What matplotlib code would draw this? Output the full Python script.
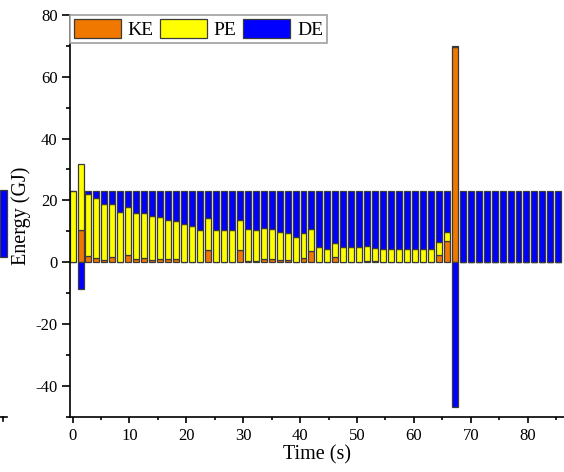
import matplotlib
matplotlib.use("Agg")
import matplotlib.pyplot as plt
import numpy as np
from matplotlib.patches import Rectangle
from matplotlib.lines import Line2D

plt.rcParams['font.family'] = ['Liberation Serif', 'DejaVu Serif']
plt.rcParams['axes.unicode_minus'] = False

# Time of each bar (s)
time = [0.0, 1.4, 2.8, 4.2, 5.6, 7.0, 8.4, 9.8, 11.2, 12.6, 14.0, 15.4, 16.8, 18.2,
        19.6, 21.0, 22.4, 23.8, 25.2, 26.6, 28.0, 29.4, 30.8, 32.2, 33.6, 35.0,
        36.4, 37.8, 39.2, 40.6, 42.0, 43.4, 44.8, 46.2, 47.6, 49.0, 50.4, 51.8,
        53.2, 54.6, 56.0, 57.4, 58.8, 60.2, 61.6, 63.0, 64.4, 65.8, 67.2, 68.6,
        70.0, 71.4, 72.8, 74.2, 75.6, 77.0, 78.4, 79.8, 81.2, 82.6, 84.0, 85.4]

# Kinetic energy (GJ)
KE = [0.0, 10.5, 2.0, 1.5, 0.8, 1.8, 0.2, 2.4, 1.0, 1.2, 0.8, 1.1, 0.9, 0.9,
      0.2, 0.2, 0.1, 3.9, 0.0, 0.0, 0.0, 3.8, 0.5, 0.3, 1.1, 1.1, 0.8, 0.8,
      0.0, 1.3, 3.6, 0.2, 0.0, 1.8, 0.0, 0.0, 0.0, 0.3, 0.3, 0.0, 0.0, 0.0,
      0.0, 0.0, 0.0, 0.2, 2.4, 6.8, 69.6, 0.2, 0.0, 0.0, 0.0, 0.0, 0.0, 0.0,
      0.0, 0.0, 0.0, 0.0, 0.0, 0.0]

# Potential energy (GJ)
PE = [23.0, 21.2, 20.1, 19.4, 18.1, 16.9, 16.1, 15.4, 15.0, 14.6, 14.0, 13.5, 12.6, 12.3,
      12.2, 11.5, 10.3, 10.3, 10.4, 10.5, 10.4, 9.7, 10.1, 10.1, 9.8, 9.5, 9.0, 8.5,
      8.3, 8.0, 7.1, 4.7, 4.2, 4.5, 4.8, 4.8, 4.9, 4.8, 4.2, 4.2, 4.3, 4.3,
      4.2, 4.2, 4.2, 4.1, 4.1, 3.1, 0.4, 0.0, 0.0, 0.0, 0.0, 0.0, 0.0, 0.0,
      0.0, 0.0, 0.0, 0.0, 0.0, 0.0]

# Dissipated energy (GJ)
DE = [0.0, -8.6, 0.9, 2.1, 4.1, 4.3, 6.7, 5.2, 7.0, 7.2, 8.2, 8.4, 9.5, 9.8,
      10.6, 11.3, 12.6, 8.8, 12.6, 12.5, 12.6, 9.5, 12.4, 12.6, 12.1, 12.4, 13.2, 13.7,
      14.7, 13.7, 12.3, 18.1, 18.8, 16.7, 18.2, 18.2, 18.1, 17.9, 18.5, 18.8, 18.7, 18.7,
      18.8, 18.8, 18.8, 18.7, 16.5, 13.1, -47.0, 22.8, 23.0, 23.0, 23.0, 23.0, 23.0, 23.0,
      23.0, 23.0, 23.0, 23.0, 23.0, 23.0]

t = np.array(time)
ke = np.array(KE)
pe = np.array(PE)
de = np.array(DE)

fig = plt.figure(figsize=(5.64, 4.72), dpi=100)
ax = fig.add_axes([70/564, (472-416.7)/472, (564-70)/564, (416.7-14.9)/472])

w = 1.05
ec = '#3a3a3a'
lw = 0.9
c_ke, c_pe, c_de = '#F07800', '#FFFF00', '#0000FF'
ax.bar(t, ke, width=w, color=c_ke, edgecolor=ec, linewidth=lw, label='KE', zorder=2)
ax.bar(t, pe, width=w, bottom=ke, color=c_pe, edgecolor=ec, linewidth=lw, label='PE', zorder=2)
de_bottom = np.where(de >= 0, ke + pe, 0.0)
ax.bar(t, de, width=w, bottom=de_bottom, color=c_de, edgecolor=ec, linewidth=lw, label='DE', zorder=2)

ax.set_xlim(-0.45, 86.4)
ax.set_ylim(-50, 80)
ax.set_xticks(np.arange(0, 81, 10))
ax.set_xticks(np.arange(5, 86, 10), minor=True)
ax.set_yticks(np.arange(-40, 81, 20))
ax.set_yticks(np.arange(-50, 80, 10), minor=True)
ax.tick_params(axis='y', which='major', length=6, width=1.2, labelsize=12, pad=3)
ax.tick_params(axis='y', which='minor', length=3, width=1.2)
ax.tick_params(axis='x', which='major', length=4, width=1.2, labelsize=12, pad=4)
ax.tick_params(axis='x', which='minor', length=2.5, width=1.2)

for s in ['top', 'right']:
    ax.spines[s].set_visible(False)
for s in ['left', 'bottom']:
    ax.spines[s].set_linewidth(1.2)

ax.set_xlabel('Time (s)', fontsize=14.5, labelpad=1)
ax.set_ylabel('Energy (GJ)', fontsize=14.5)
ax.yaxis.set_label_coords(-0.078, 0.5)

leg = ax.legend(loc='upper left', bbox_to_anchor=(0, 1), borderaxespad=0, ncol=3,
                fontsize=14, handlelength=2.4, handleheight=1.15, handletextpad=0.35,
                columnspacing=0.35, borderpad=0.2, fancybox=False, framealpha=1,
                edgecolor='#a0a0a0')
leg.get_frame().set_linewidth(1.2)

# fragments of the neighbouring panel at the left edge
fig.patches.append(Rectangle((0, (472-256.7)/472), 6.5/564, 66.7/472,
                             transform=fig.transFigure, facecolor=c_de,
                             edgecolor=ec, linewidth=0.9))
fig.lines.append(Line2D([0, 7/564], [(472-416.7)/472]*2, transform=fig.transFigure,
                        color='black', linewidth=1.2))
fig.lines.append(Line2D([3.3/564]*2, [(472-416.7)/472, (472-420.5)/472],
                        transform=fig.transFigure, color='black', linewidth=1.2))

fig.savefig('out.png', dpi=100)
